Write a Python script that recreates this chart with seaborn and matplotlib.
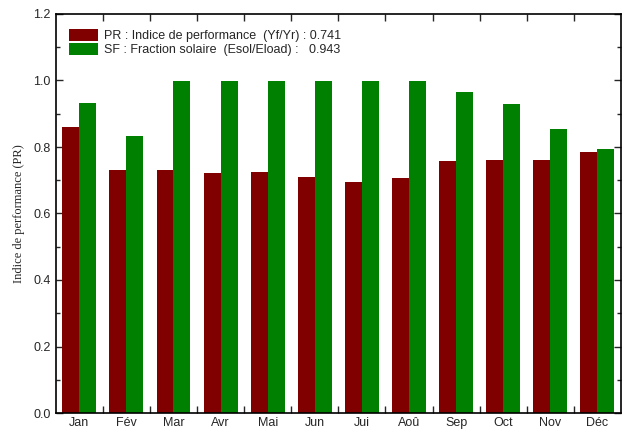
import matplotlib
matplotlib.use("Agg")
import matplotlib.pyplot as plt
import seaborn as sns
import pandas as pd
import numpy as np
from matplotlib.ticker import MultipleLocator, FixedLocator

months = ["Jan", "Fév", "Mar", "Avr", "Mai", "Jun", "Jui", "Aoû", "Sep", "Oct", "Nov", "Déc"]
pr_values = [0.859, 0.731, 0.730, 0.721, 0.724, 0.709, 0.696, 0.707, 0.759, 0.761, 0.762, 0.785]
sf_values = [0.931, 0.832, 1.000, 1.000, 1.000, 1.000, 1.000, 1.000, 0.965, 0.928, 0.853, 0.794]
series_labels = ["PR : Indice de performance  (Yf/Yr) : 0.741",
                 "SF : Fraction solaire  (Esol/Eload) :   0.943"]
colors = ["#800000", "#008000"]

df = pd.DataFrame({
    "Mois": months * 2,
    "Valeur": pr_values + sf_values,
    "Serie": [series_labels[0]] * len(months) + [series_labels[1]] * len(months),
})

sns.set_style("white")
plt.rcParams['font.family'] = ['Liberation Sans', 'DejaVu Sans']

fig = plt.figure(figsize=(6.23, 4.29), dpi=100)
ax = fig.add_axes([55.7 / 623, 16 / 429, (621 - 55.7) / 623, (413 - 14) / 429])

sns.barplot(data=df, x="Mois", y="Valeur", hue="Serie", order=months,
            hue_order=series_labels, palette=colors, width=0.72,
            saturation=1, edgecolor="none", linewidth=0, ax=ax)

ax.set_xlim(-0.5, len(months) - 0.5)
ax.set_ylim(0, 1.2)
ax.yaxis.set_major_locator(MultipleLocator(0.2))
ax.yaxis.set_minor_locator(MultipleLocator(0.1))
ax.yaxis.set_major_formatter(matplotlib.ticker.FormatStrFormatter('%.1f'))
ax.xaxis.set_minor_locator(FixedLocator(np.arange(0.5, len(months) - 0.5, 1.0)))

ax.tick_params(axis='x', which='major', length=0, labelsize=9, pad=3)
ax.tick_params(axis='x', which='minor', direction='in', length=5, width=1,
               top=True, bottom=True)
ax.tick_params(axis='y', which='major', direction='in', length=5, width=1,
               left=True, right=True, labelsize=9)
ax.tick_params(axis='y', which='minor', direction='in', length=3, width=1,
               left=True, right=True)

for s in ax.spines.values():
    s.set_visible(True)
    s.set_color('black')
    s.set_linewidth(1.2)

ax.set_xlabel("")
ax.set_ylabel("Indice de performance (PR)", family=['Liberation Serif', 'DejaVu Serif'],
              fontsize=9, labelpad=6)

leg = ax.legend(loc='upper left', bbox_to_anchor=(0.015, 0.975), frameon=False,
                fontsize=9, handlelength=2.3, handleheight=1.05, labelspacing=0.08,
                handletextpad=0.5, borderaxespad=0)

fig.savefig("out.png", dpi=100)
